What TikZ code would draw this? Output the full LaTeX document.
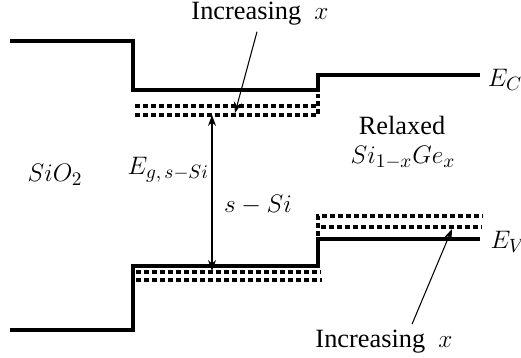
\documentclass[tikz,border=0pt]{standalone}
\usepackage{fontspec}
\setmainfont{Liberation Serif}
\usetikzlibrary{arrows.meta,positioning}

\begin{document}
\begin{tikzpicture}[
  x=0.02cm, y=-0.02cm,
  font=\fontsize{15}{17}\selectfont,
  band/.style={line width=0.08cm, line join=miter},
  strained/.style={line width=0.07cm, dash pattern=on 0.1cm off 0.06cm},
  arrow/.style={-{Stealth[length=2.2mm,width=1.6mm]}, semithick},
  gaparrow/.style={{Stealth[length=2.2mm,width=1.6mm]}-{Stealth[length=2.2mm,width=1.6mm]}, semithick}
]
\useasboundingbox (0,0) rectangle (521,358);

% band edges
\draw[band] (10,41) -- (133,41) -- (133,90) -- (318,90) -- (318,75) -- (480,75);
\draw[band] (10,330) -- (133,330) -- (133,266) -- (318,266) -- (318,239) -- (480,239);

% shifted levels
\draw[strained] (135,106) -- (316,106);
\draw[strained] (135,115) -- (318,115) -- (318,94);
\draw[strained] (136,272) -- (320,272);
\draw[strained] (136,280) -- (322,280);
\draw[strained] (318,236) -- (318,216) -- (482,216);
\draw[strained] (321,227) -- (482,227);

% labels
\node (ec) at (505,80) {$E_C$};
\node (ev) at (508,242) {$E_V$};
\node (sio2) at (55,175) {$SiO_2$};
\node[anchor=east, inner sep=1pt] (eg) at (211,170) {$E_{g,\,s-Si}$};
\node (ssi) at (258,205) {$s-Si$};
\node (relax) at (402,125) {Relaxed};
\node (sige) at (403,158) {$Si_{1-x}Ge_x$};
\node (incTop) at (260,14) {Increasing\ \ $x$};
\node (incBot) at (384,342) {Increasing\ \ $x$};

\coordinate (gapTop) at (212,115);
\coordinate (gapBot) at (212,271);
\coordinate (ecShift) at (235,113);
\coordinate (evShift) at (452,229);

\draw[gaparrow] (gapTop) -- (gapBot);
\draw[arrow] ([xshift=-0.06cm]incTop.south) -- (ecShift);
\draw[arrow] ([xshift=0.56cm]incBot.north) -- (evShift);

\end{tikzpicture}
\end{document}
